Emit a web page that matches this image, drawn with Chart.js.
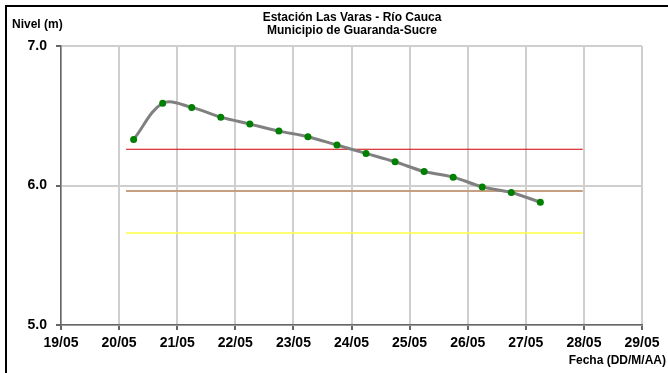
<!DOCTYPE html>
<html>
<head>
<meta charset="utf-8">
<script src="https://cdn.jsdelivr.net/npm/chart.js@4.4.1/dist/chart.umd.min.js"></script>
<style>
  html, body { margin: 0; padding: 0; background: #fff; }
  #wrap { width: 668px; height: 373px; position: relative; }
</style>
</head>
<body>
<div id="wrap"><canvas id="nivelChart" width="668" height="373"></canvas></div>
<script>
// datos
var fechas = [20.25, 20.75, 21.25, 21.75, 22.25, 22.75, 23.25, 23.75, 24.25, 24.75, 25.25, 25.75, 26.25, 26.75, 27.25];
var niveles = [6.33, 6.59, 6.56, 6.49, 6.44, 6.39, 6.35, 6.29, 6.23, 6.17, 6.10, 6.06, 5.99, 5.95, 5.88];

// niveles de referencia (linea horizontal de inicio a fin)
var tramoRef = [20.12, 27.98];
var nivelRojo = 6.26;
var nivelCafe = 5.96;
var nivelAmarillo = 5.66;

var tituloLineas = ["Estación Las Varas - Río Cauca", "Municipio de Guaranda-Sucre"];
var tituloY = "Nivel (m)";
var tituloX = "Fecha (DD/M/AA)";

var fuente = "'Liberation Sans', Arial, sans-serif";

function refLine(valor) {
    return tramoRef.map(x => ({x: x, y: valor}));
}

// textos y marco negro
const textos = {
    id: 'textos',
    afterDraw(chart) {
        const ctx = chart.ctx;
        ctx.save();
        ctx.fillStyle = '#000';
        ctx.fillRect(5, 5, 663, 2);
        ctx.fillRect(5, 5, 2, 368);

        ctx.font = 'bold 12px ' + fuente;
        ctx.textAlign = 'center';
        ctx.textBaseline = 'middle';
        ctx.fillText(tituloLineas[0], 352, 18);
        ctx.fillText(tituloLineas[1], 352, 31);

        ctx.font = 'bold 12px ' + fuente;
        ctx.textAlign = 'left';
        ctx.fillText(tituloY, 12, 25);
        ctx.textAlign = 'right';
        ctx.fillText(tituloX, 666, 361);
        ctx.restore();
    }
};

new Chart("nivelChart", {
    type: "line",
    data: {
        datasets: [{
            label: 'Nivel',
            data: fechas.map((f, i) => ({x: f, y: niveles[i]})),
            borderColor: '#808080',
            borderWidth: 3,
            tension: 0.35,
            pointRadius: 3.5,
            pointBackgroundColor: '#008000',
            pointBorderWidth: 0,
            fill: false
        }, {
            label: 'Rojo',
            data: refLine(nivelRojo),
            borderColor: '#d00000',
            borderWidth: 1.2,
            pointRadius: 0
        }, {
            label: 'Cafe',
            data: refLine(nivelCafe),
            borderColor: '#c4a080',
            borderWidth: 2,
            pointRadius: 0
        }, {
            label: 'Amarillo',
            data: refLine(nivelAmarillo),
            borderColor: '#ffff40',
            borderWidth: 1.5,
            pointRadius: 0
        }]
    },
    options: {
        responsive: false,
        animation: false,
        events: [],
        layout: {
            padding: {top: 46, right: 26, left: 0, bottom: 0}
        },
        plugins: {
            legend: {display: false},
            title: {display: false},
            tooltip: {enabled: false}
        },
        scales: {
            x: {
                type: 'linear',
                min: 19,
                max: 29,
                afterFit: function(scale) { scale.height = 48; },
                ticks: {
                    stepSize: 1,
                    color: '#000',
                    padding: 5,
                    maxRotation: 0,
                    font: {family: fuente, size: 14, weight: 'bold'},
                    callback: v => String(v).padStart(2, '0') + '/05'
                },
                grid: {
                    color: '#cfcfcf',
                    lineWidth: 2,
                    tickLength: 5,
                    tickColor: '#666'
                },
                border: {display: true, color: '#666', width: 1.5}
            },
            y: {
                min: 5,
                max: 7,
                afterFit: function(scale) { scale.width = 61; },
                ticks: {
                    stepSize: 1,
                    color: '#000',
                    padding: 9,
                    font: {family: fuente, size: 14, weight: 'bold'},
                    callback: v => v.toFixed(1)
                },
                grid: {
                    color: '#cfcfcf',
                    lineWidth: 2,
                    tickLength: 5,
                    tickColor: '#666'
                },
                border: {display: true, color: '#666', width: 1.5}
            }
        }
    },
    plugins: [textos]
});
</script>
</body>
</html>
